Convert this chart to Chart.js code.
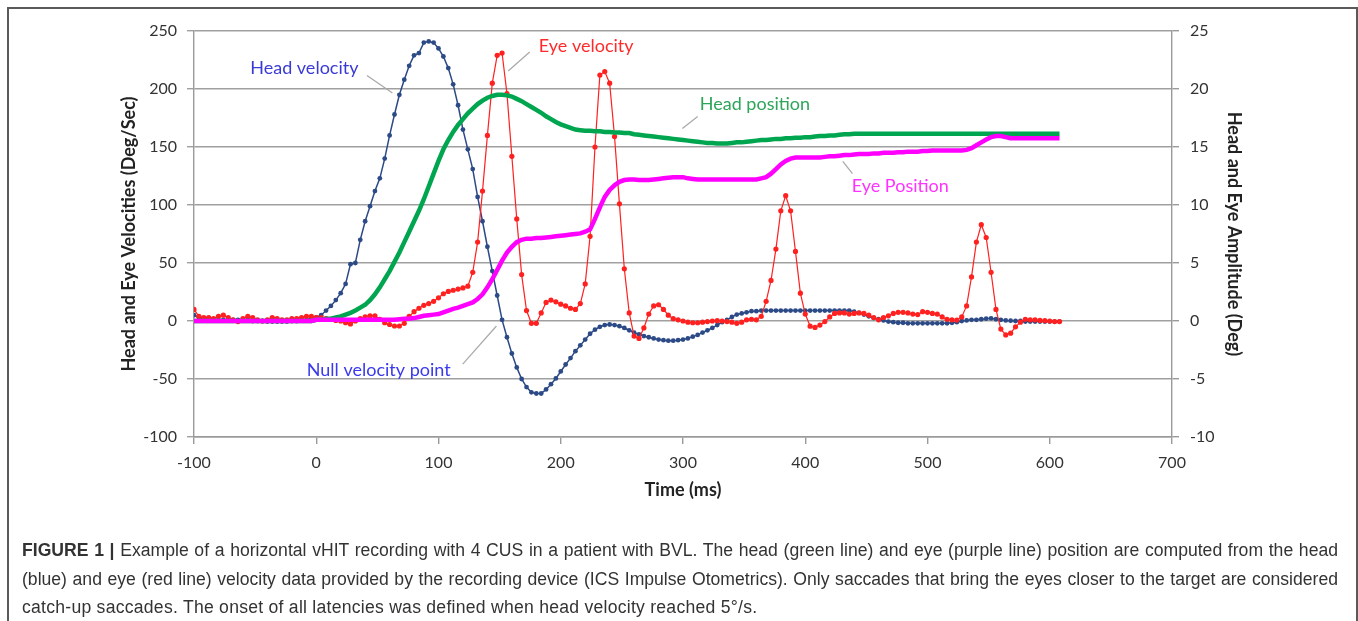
<!DOCTYPE html>
<html lang="en">
<head>
  <meta charset="UTF-8" />
  <title>vHIT recording - Figure 1</title>
  <script src="https://cdn.jsdelivr.net/npm/chart.js"></script>
  <style>
    html, body { margin: 0; padding: 0; background: #fff; }
    body { width: 1358px; height: 621px; position: relative; overflow: hidden; }
    #frame {
      position: absolute; left: 7px; top: 7px; width: 1347px; height: 700px;
      border: 2px solid #5a5a5a;
    }
    #chart { position: absolute; left: 0; top: 0; }
    #caption {
      position: absolute; left: 22px; top: 536px; width: 1316px;
      font-family: "Liberation Sans", Arial, sans-serif; font-size: 17.6px;
      line-height: 28.5px; color: #333;
    }
    #caption div { white-space: nowrap; }
    #caption .just { text-align: justify; text-align-last: justify; }
    #caption .last { letter-spacing: 0.25px; }
  </style>
</head>
<body>
  <div id="frame"></div>
  <canvas id="chart" width="1358" height="621"></canvas>

  <div id="caption">
    <div class="just"><b>FIGURE 1 |</b> Example of a horizontal vHIT recording with 4 CUS in a patient with BVL. The head (green line) and eye (purple line) position are computed from the head</div>
    <div class="just">(blue) and eye (red line) velocity data provided by the recording device (ICS Impulse Otometrics). Only saccades that bring the eyes closer to the target are considered</div>
    <div class="last">catch-up saccades. The onset of all latencies was defined when head velocity reached 5°/s.</div>
  </div>

  <script>
    // sample times (ms), 250 Hz
    const time = [
      -100,-96,-92,-88,-84,-80,-76,-72,-68,-64,-60,-56,-52,-48,-44,-40,-36,-32,-28,-24,-20,-16,-12,-8,-4,
      0,4,8,12,16,20,24,28,32,36,40,44,48,52,56,60,64,68,72,76,80,84,88,92,96,
      100,104,108,112,116,120,124,128,132,136,140,144,148,152,156,160,164,168,172,176,180,184,188,192,196,
      200,204,208,212,216,220,224,228,232,236,240,244,248,252,256,260,264,268,272,276,280,284,288,292,296,
      300,304,308,312,316,320,324,328,332,336,340,344,348,352,356,360,364,368,372,376,380,384,388,392,396,
      400,404,408,412,416,420,424,428,432,436,440,444,448,452,456,460,464,468,472,476,480,484,488,492,496,
      500,504,508,512,516,520,524,528,532,536,540,544,548,552,556,560,564,568,572,576,580,584,588,592,596,
      600,604,608
    ];

    // deg/sec, left axis
    const headVelocity = [
      5,3,2,2,1,1,1,1,1,1,1,1,0,0,0,-0.5,-0.5,-0.5,-0.5,-0.5,0,0,1,1,2,
      3,5,9,13,18,24,32,49,50,70,86,99,112,123,140,160,178,195,208,220,229,231,240,241,240,
      235,228,218,204,186,165,148,131,107,86,64,43,22,1,-14,-28,-40,-50,-57,-61.5,-62.5,-62.5,-59,-54.5,-49.5,
      -43.5,-37.5,-32,-26,-21,-16,-11,-7.5,-5,-3.5,-3,-3.5,-4.5,-6,-8,-10,-11.5,-13,-14,-15,-16,-16.5,-17,-17,-16.5,
      -16,-15,-13.5,-12,-10,-8,-6,-3.5,-1,1,3.5,5.5,6.5,7.5,8.5,8.5,9,9,9,9,9,9,9,9,9,
      9,9,9,9,9,9,9,9,9,9,8,7,5.5,4,2.5,1.5,0.5,-0.5,-1,-1.5,-1.5,-2,-2,-2,-2,
      -2,-2,-2,-2,-2,-1.5,-1,0,0.5,1,1,1.5,2,2.3,1.5,1,0.5,0.3,0,0,-0.5,-0.5,-0.5,-0.5,-0.5,
      -0.5,-0.5,-0.5
    ];
    const eyeVelocity = [
      10,4,3,3,2,4,5,3,1,-0.5,2,4,3,1,0,1,3,2,1,1,2,2,3,4,4,
      3,3,2,1.5,0.5,0,-1.5,-2.5,0,2,3.5,4.5,4.5,1.5,-1.5,-3,-4.3,-4.3,-2,4,8,11,13.5,15,17,
      20,23.5,25.5,26.5,27.5,28.5,30,42,68,112,160,205,229,231,196,142,88,40,9,-2,-2,7,16,18,16.5,
      14.5,13,11,10,15,32,73,150,212,215,205,159,101,45,7,-13,-15,-6,6,13,14,10,5,2,1,
      0,-1,-1.5,-1.5,-1,-0.5,0,0.3,0,-0.5,-1,-2,-1,1,1.5,1,4,17,35,62,95,108,95,60,24,
      6,-4.5,-5.5,-3.5,-0.5,3.5,6.5,7,7,6,6.5,7,6.5,5,3,1,3,4.5,6.5,7.5,7.5,7,6,5.5,8,
      7.5,6.5,6,3.5,1.5,1,0.8,3.5,13,38,68,83,72,42,10,-7,-12,-10.5,-5,-1,1.5,1,1,0.5,0.3,
      0,-0.5,-0.5
    ];

    // deg, right axis
    const headPosition = [
      0,0,0,0,0,0,0,0,0,0,0,0,0,0,0,0,0,0,0,0,0,0,0,0,0,
      0.1,0.1,0.2,0.2,0.3,0.4,0.55,0.7,0.9,1.15,1.4,1.8,2.3,2.9,3.6,4.3,5.1,5.9,6.8,7.7,8.6,9.5,10.5,11.6,12.7,
      13.8,14.8,15.6,16.3,16.9,17.4,17.9,18.3,18.7,19.0,19.25,19.4,19.5,19.5,19.45,19.35,19.15,18.95,18.7,18.45,18.2,17.95,17.65,17.4,17.15,
      16.95,16.8,16.65,16.5,16.45,16.4,16.4,16.35,16.35,16.3,16.3,16.25,16.25,16.2,16.2,16.1,16.05,16,15.95,15.9,15.85,15.8,15.75,15.7,15.65,
      15.6,15.55,15.5,15.45,15.4,15.35,15.35,15.3,15.3,15.3,15.35,15.4,15.4,15.45,15.5,15.55,15.6,15.6,15.65,15.7,15.7,15.75,15.75,15.8,15.8,
      15.85,15.85,15.9,15.95,15.95,16,16,16.05,16.1,16.1,16.15,16.15,16.15,16.15,16.15,16.15,16.15,16.15,16.15,16.15,16.15,16.15,16.15,16.15,16.15,
      16.15,16.15,16.15,16.15,16.15,16.15,16.15,16.15,16.15,16.15,16.15,16.15,16.15,16.15,16.15,16.15,16.15,16.15,16.15,16.15,16.15,16.15,16.15,16.15,16.15,
      16.15,16.15,16.15
    ];
    const eyePosition = [
      0,0,0,0,0,0,0,0,0,0,0,0,0,0,0,0,0,0,0,0,0,0,0,0,0,
      0.1,0.1,0.1,0.1,0.1,0.1,0.1,0.1,0.1,0.1,0.1,0.1,0.1,0.1,0.1,0.1,0.1,0.15,0.2,0.2,0.25,0.35,0.45,0.5,0.55,
      0.6,0.75,0.9,1.05,1.15,1.3,1.45,1.6,1.9,2.3,2.9,3.6,4.4,5.2,5.9,6.4,6.8,7.0,7.1,7.1,7.15,7.15,7.2,7.25,7.3,
      7.35,7.4,7.45,7.5,7.55,7.7,7.9,8.8,9.8,10.7,11.3,11.7,12.0,12.15,12.2,12.2,12.15,12.15,12.15,12.2,12.25,12.3,12.35,12.4,12.4,
      12.4,12.3,12.25,12.2,12.2,12.2,12.2,12.2,12.2,12.2,12.2,12.2,12.2,12.2,12.2,12.2,12.3,12.4,12.7,13.1,13.5,13.8,14.0,14.1,14.1,
      14.1,14.1,14.1,14.1,14.15,14.2,14.2,14.25,14.3,14.3,14.35,14.4,14.4,14.4,14.45,14.45,14.5,14.5,14.5,14.55,14.55,14.6,14.6,14.6,14.65,
      14.65,14.7,14.7,14.7,14.7,14.7,14.7,14.7,14.75,14.9,15.15,15.4,15.65,15.85,15.95,15.95,15.85,15.75,15.75,15.75,15.75,15.75,15.75,15.75,15.75,
      15.75,15.75,15.75
    ];

    // axis ranges / ticks
    const timeTicks = { min: -100, max: 700, step: 100 };
    const velocityTicks = { min: -100, max: 250, step: 50 };
    const amplitudeTicks = { min: -10, max: 25, step: 5 };

    // in-chart labels, in left-axis data units (ms, deg/sec)
    const callouts = [
      { text: "Head velocity", color: "#3a3ad4", at: [-54, 218], line: [[41.5, 211.7], [62.3, 196.5]] },
      { text: "Eye velocity", color: "#ff2b2b", at: [182, 237], line: [[157, 215.5], [174.6, 231.9]] },
      { text: "Head position", color: "#2ea55a", at: [313.7, 186.7], line: [[312, 176.3], [299.5, 166]] },
      { text: "Eye Position", color: "#ff33ff", at: [438, 115.8], line: [[430.7, 137.7], [438.6, 127]] },
      { text: "Null velocity point", color: "#3a3aee", at: [-7.8, -42.4], line: [[119.8, -37.2], [147.4, -4.3]] }
    ];

    const pts = (ys) => time.map((t, i) => ({ x: t, y: ys[i] }));

    const calloutPlugin = {
      id: "callouts",
      afterDatasetsDraw(chart) {
        const ctx = chart.ctx;
        const xs = chart.scales.x, ys = chart.scales.y;
        ctx.save();
        callouts.forEach(c => {
          ctx.strokeStyle = "#a8a8a8";
          ctx.lineWidth = 1.2;
          ctx.beginPath();
          ctx.moveTo(xs.getPixelForValue(c.line[0][0]), ys.getPixelForValue(c.line[0][1]));
          ctx.lineTo(xs.getPixelForValue(c.line[1][0]), ys.getPixelForValue(c.line[1][1]));
          ctx.stroke();
          ctx.fillStyle = c.color;
          ctx.font = "18px Lato";
          ctx.textAlign = "left";
          ctx.textBaseline = "middle";
          ctx.fillText(c.text, xs.getPixelForValue(c.at[0]), ys.getPixelForValue(c.at[1]));
        });
        ctx.restore();
      }
    };

    const tickFont = { family: "Lato", size: 16 };
    const titleFont = { family: "Lato", size: 18, weight: "bold" };

    new Chart(document.getElementById("chart"), {
      type: "line",
      data: {
        datasets: [
          { label: "Eye Position", data: pts(eyePosition), yAxisID: "y1",
            borderColor: "#ff00ff", borderWidth: 4.5, pointRadius: 0, tension: 0 },
          { label: "Head position", data: pts(headPosition), yAxisID: "y1",
            borderColor: "#00a550", borderWidth: 4.5, pointRadius: 0, tension: 0 },
          { label: "Eye velocity", data: pts(eyeVelocity), yAxisID: "y",
            borderColor: "#ff2020", backgroundColor: "#ff2020", borderWidth: 1.2,
            pointRadius: 2.6, pointBorderWidth: 0, tension: 0 },
          { label: "Head velocity", data: pts(headVelocity), yAxisID: "y",
            borderColor: "#2c4a86", backgroundColor: "#2c4a86", borderWidth: 1.5,
            pointRadius: 2.4, pointBorderWidth: 0, tension: 0 }
        ]
      },
      options: {
        responsive: false,
        animation: false,
        layout: { padding: { left: 118, right: 113, top: 31, bottom: 120 } },
        plugins: { legend: { display: false }, tooltip: { enabled: false } },
        scales: {
          x: {
            type: "linear",
            min: timeTicks.min, max: timeTicks.max,
            ticks: { stepSize: timeTicks.step, color: "#333", font: tickFont, padding: 9, maxRotation: 0 },
            grid: { drawOnChartArea: false, tickLength: 7, color: "#9a9a9a", lineWidth: 1.4 },
            border: { color: "#9a9a9a", width: 1.4 },
            title: { display: true, text: "Time (ms)", color: "#222", font: titleFont, padding: 0 },
            afterFit(s) { s.height = 64; }
          },
          y: {
            position: "left",
            min: velocityTicks.min, max: velocityTicks.max,
            ticks: { stepSize: velocityTicks.step, color: "#333", font: tickFont, padding: 10 },
            grid: { color: "#a0a0a0", lineWidth: 1.4, tickLength: 7 },
            border: { color: "#9a9a9a", width: 1.4 },
            title: { display: true, text: "Head and Eye Velocities (Deg/Sec)", color: "#222", font: titleFont, padding: 0 },
            afterFit(s) { s.width = 76; }
          },
          y1: {
            position: "right",
            min: amplitudeTicks.min, max: amplitudeTicks.max,
            ticks: { stepSize: amplitudeTicks.step, color: "#333", font: tickFont, padding: 11 },
            grid: { drawOnChartArea: false, tickLength: 7, color: "#9a9a9a", lineWidth: 1.4 },
            border: { color: "#9a9a9a", width: 1.4 },
            title: { display: true, text: "Head and Eye Amplitude (Deg)", color: "#222", font: titleFont, padding: 0 },
            afterFit(s) { s.width = 73; }
          }
        }
      },
      plugins: [calloutPlugin]
    });
  </script>
</body>
</html>
